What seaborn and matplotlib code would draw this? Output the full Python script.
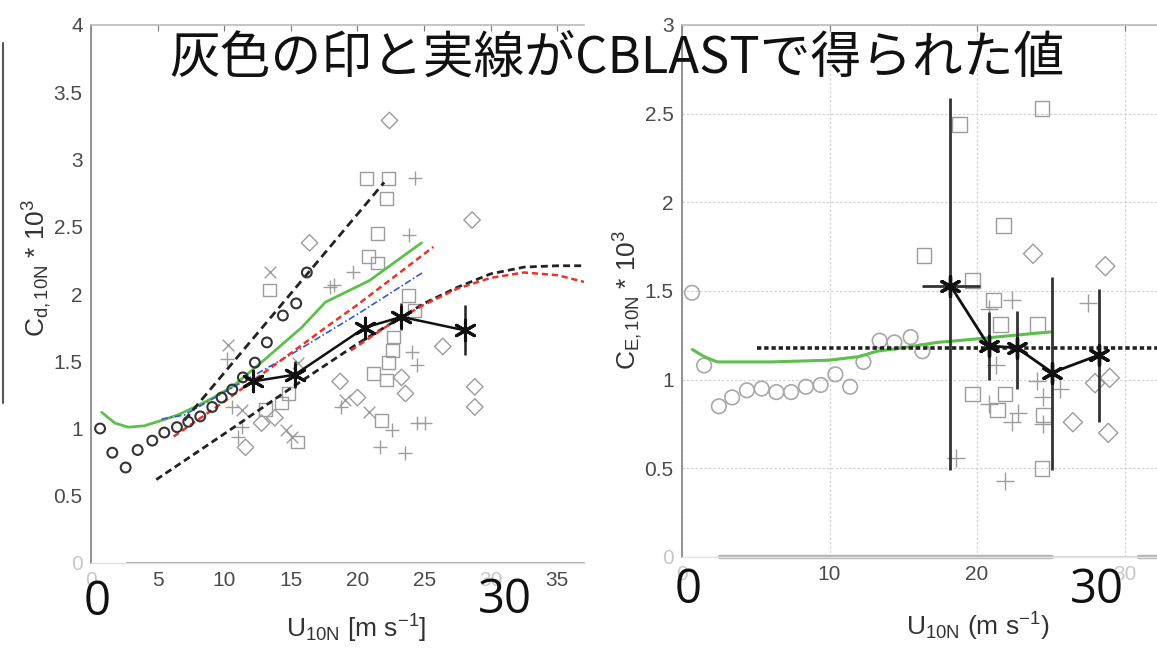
import numpy as np
import pandas as pd
import matplotlib
matplotlib.use("Agg")
import matplotlib.pyplot as plt
import seaborn as sns
from matplotlib.lines import Line2D

# ---------------- drag coefficient panel (C_d,10N) ----------------
cd_circle_u = [0.68, 1.6, 2.6, 3.5, 4.6, 5.5, 6.45, 7.3, 8.2, 9.1, 9.8, 10.6, 11.4, 12.3, 13.2, 14.4, 15.4, 16.2]
cd_circle_c = [1.00, 0.82, 0.71, 0.84, 0.91, 0.97, 1.01, 1.05, 1.09, 1.16, 1.23, 1.29, 1.38, 1.49, 1.64, 1.84, 1.93, 2.16]

cd_green_u = [0.8, 1.8, 2.8, 4.0, 5.3, 6.5, 7.8, 9.2, 10.6, 13.0, 15.8, 17.6, 20.9, 24.8]
cd_green_c = [1.12, 1.04, 1.01, 1.02, 1.06, 1.10, 1.16, 1.23, 1.31, 1.51, 1.75, 1.94, 2.10, 2.38]

cd_red_u = [6.2, 10.0, 15.0, 17.6, 20.0, 25.7]
cd_red_c = [0.94, 1.20, 1.56, 1.75, 1.92, 2.35]

cd_blue_u = [5.3, 7.0, 10.0, 15.0, 20.0, 24.9]
cd_blue_c = [1.07, 1.10, 1.27, 1.55, 1.85, 2.16]

cd_steep_u = [7.0, 22.0]
cd_steep_c = [1.06, 2.83]

cd_curve_u = [4.9, 10.0, 15.0, 20.0, 22.5, 25.0, 27.5, 30.0, 32.5, 35.0, 37.0]
cd_curve_c = [0.62, 0.96, 1.30, 1.63, 1.78, 1.93, 2.05, 2.15, 2.20, 2.21, 2.21]

cd_redcurve_u = [19.5, 22.5, 25.0, 27.5, 30.0, 32.5, 35.0, 37.0]
cd_redcurve_c = [1.58, 1.78, 1.92, 2.04, 2.12, 2.16, 2.14, 2.09]

cd_bin_u = [12.15, 15.3, 20.55, 23.3, 28.05]
cd_bin_c = [1.35, 1.40, 1.75, 1.83, 1.73]
cd_bin_lo = [1.30, 1.30, 1.68, 1.73, 1.55]
cd_bin_hi = [1.40, 1.50, 1.82, 1.93, 1.92]

cd_sq_u = [20.7, 22.3, 22.2, 13.4, 20.8, 21.5, 21.2, 22.3, 22.6, 22.2, 21.8, 22.7, 23.8, 24.3, 13.1, 14.3, 14.8, 21.5, 15.5]
cd_sq_c = [2.86, 2.86, 2.71, 2.03, 2.28, 2.23, 1.41, 1.49, 1.58, 1.36, 1.06, 1.68, 1.99, 1.88, 1.14, 1.19, 1.26, 2.45, 0.90]

cd_plus_u = [24.3, 23.9, 17.9, 19.7, 18.2, 18.8, 22.6, 23.6, 24.5, 25.1, 24.5, 10.6, 11.3, 10.2, 24.1, 21.7, 11.0]
cd_plus_c = [2.86, 2.44, 2.05, 2.16, 2.07, 1.16, 0.99, 0.82, 1.04, 1.04, 1.47, 1.16, 1.01, 1.52, 1.57, 0.86, 0.94]

cd_x_u = [13.4, 10.3, 11.3, 14.6, 19.1, 20.9, 15.5, 15.1]
cd_x_c = [2.16, 1.62, 1.14, 0.99, 1.21, 1.12, 1.49, 0.94]

cd_dia_u = [22.4, 16.4, 28.6, 18.7, 20.0, 28.8, 28.8, 26.4, 23.6, 23.3, 11.6, 12.8, 13.8]
cd_dia_c = [3.29, 2.38, 2.55, 1.35, 1.23, 1.31, 1.16, 1.61, 1.26, 1.38, 0.86, 1.04, 1.08]

# ---------------- moisture coefficient panel (C_E,10N) ----------------
ce_circle_u = [0.68, 1.5, 2.5, 3.4, 4.4, 5.4, 6.4, 7.4, 8.4, 9.4, 10.4, 11.4, 12.3, 13.4, 14.4, 15.5, 16.3]
ce_circle_c = [1.49, 1.08, 0.85, 0.90, 0.94, 0.95, 0.93, 0.93, 0.96, 0.97, 1.03, 0.96, 1.10, 1.22, 1.21, 1.24, 1.16]

ce_green_u = [0.7, 1.5, 2.4, 4.0, 6.0, 8.0, 10.0, 12.0, 13.2, 15.0, 17.3, 20.0, 22.5, 25.1]
ce_green_c = [1.17, 1.13, 1.10, 1.10, 1.10, 1.105, 1.11, 1.13, 1.16, 1.18, 1.21, 1.23, 1.25, 1.27]

ce_const_u = [5.1, 35.0]
ce_const_c = [1.18, 1.18]

ce_bin_u = [18.2, 20.8, 22.7, 25.1, 28.3]
ce_bin_c = [1.53, 1.19, 1.18, 1.04, 1.14]
ce_bin_lo = [0.49, 1.00, 0.95, 0.49, 0.76]
ce_bin_hi = [2.59, 1.38, 1.39, 1.58, 1.51]
ce_bin_ulo = [16.3, 20.8, 22.7, 25.1, 28.3]
ce_bin_uhi = [20.2, 20.8, 22.7, 25.1, 28.3]

ce_sq_u = [18.8, 24.4, 21.8, 16.4, 19.7, 21.1, 21.6, 24.1, 19.7, 21.9, 21.4, 24.4, 24.5]
ce_sq_c = [2.44, 2.53, 1.87, 1.70, 1.56, 1.45, 1.31, 1.31, 0.92, 0.92, 0.83, 0.50, 0.80]

ce_plus_u = [27.5, 22.4, 20.8, 21.3, 24.1, 25.6, 20.8, 22.8, 22.4, 24.5, 24.5, 18.6, 21.9]
ce_plus_c = [1.43, 1.45, 1.40, 1.08, 0.99, 0.95, 0.86, 0.81, 0.76, 0.90, 0.75, 0.56, 0.43]

ce_dia_u = [23.8, 28.7, 26.5, 28.0, 29.0, 28.9]
ce_dia_c = [1.71, 1.64, 0.76, 0.98, 1.01, 0.70]

cd_yticks = [0, 0.5, 1, 1.5, 2, 2.5, 3, 3.5, 4]
cd_yticklabels = ["0", "0.5", "1", "1.5", "2", "2.5", "3", "3.5", "4"]
cd_xticks = [0, 5, 10, 15, 20, 25, 30, 35]
ce_yticks = [0, 0.5, 1, 1.5, 2, 2.5, 3]
ce_yticklabels = ["0", "0.5", "1", "1.5", "2", "2.5", "3"]
ce_xticks = [0, 10, 20, 30]

title_text = "灰色の印と実線がCBLASTで得られた値"

# ---------------- styling ----------------
sns.set_theme(style="white")
plt.rcParams["font.family"] = ["Liberation Sans Narrow", "Liberation Sans", "DejaVu Sans"]
plt.rcParams["mathtext.fontset"] = "custom"
plt.rcParams["mathtext.rm"] = "Liberation Sans"
plt.rcParams["mathtext.it"] = "Liberation Sans:italic"

GRAY = "#9c9c9c"
TICK = "#4a4a4a"
FADED = "#c8c8c8"

W, H = 1157, 658
fig = plt.figure(figsize=(W / 100, H / 100), dpi=100)
fig.patch.set_facecolor("white")


def px_axes(left, top, right, bottom):
    return fig.add_axes([left / W, 1 - bottom / H, (right - left) / W, (bottom - top) / H])


def scatter_open(ax, u, c, marker, size=80, color=GRAY, lw=1.0):
    sns.scatterplot(x=u, y=c, ax=ax, marker=marker, s=size,
                    facecolors="none", edgecolor=color, linewidth=lw, zorder=2)


def scatter_line(ax, u, c, marker, size=80, color=GRAY, lw=1.0):
    sns.scatterplot(x=u, y=c, ax=ax, marker=marker, s=size, color=color, linewidth=lw, zorder=2)


def line(ax, u, c, color, lw, ls="-", z=3):
    sns.lineplot(x=u, y=c, ax=ax, color=color, linewidth=lw, linestyle=ls,
                 sort=False, estimator=None, zorder=z)


def style_axes(ax, xlim, ylim, xticks, yticks, yticklabels, faded_x):
    ax.set_xlim(*xlim)
    ax.set_ylim(*ylim)
    ax.set_xticks(xticks)
    ax.set_xticklabels([str(t) for t in xticks])
    ax.set_yticks(yticks)
    ax.set_yticklabels(yticklabels)
    ax.tick_params(direction="in", length=4, width=0.8, colors="#777777",
                   labelcolor=TICK, labelsize=15, top=True, pad=6)
    # tick labels sitting under the large overlaid numbers are washed out
    for t, lbl in zip(xticks, ax.get_xticklabels()):
        if t in faded_x:
            lbl.set_color(FADED)
    ax.get_yticklabels()[0].set_color(FADED)
    ax.spines["right"].set_visible(False)
    ax.spines["top"].set_color("#bdbdbd")
    ax.spines["left"].set_color("#8a8a8a")
    ax.spines["left"].set_linewidth(1.3)
    ax.spines["bottom"].set_color("#e2e2e2")
    ax.spines["bottom"].set_linewidth(1.0)
    ax.set_xlabel("")
    ax.set_ylabel("")
    ax.set_facecolor("white")


# ---------------- left panel ----------------
ax1 = px_axes(91, 25, 584, 563)
style_axes(ax1, (0, 37), (0, 4), cd_xticks, cd_yticks, cd_yticklabels, faded_x=(0, 30))
ax1.axhline(0, xmin=2.7 / 37, xmax=1, color="#a0a0a0", lw=1.4, clip_on=False, zorder=1)

scatter_open(ax1, cd_sq_u, cd_sq_c, "s", size=85)
scatter_open(ax1, cd_dia_u, cd_dia_c, "D", size=70)
scatter_line(ax1, cd_plus_u, cd_plus_c, "+", size=110)
scatter_line(ax1, cd_x_u, cd_x_c, "x", size=70)

line(ax1, cd_green_u, cd_green_c, "#5dbf4c", 2.0)
line(ax1, cd_blue_u, cd_blue_c, "#3a56d6", 1.2, ls=(0, (4, 1.5, 1, 1.5)))
line(ax1, cd_red_u, cd_red_c, "#e8352b", 1.8, ls=(0, (2.5, 1.5)))
line(ax1, cd_steep_u, cd_steep_c, "#222222", 2.0, ls=(0, (3, 1.8)))
line(ax1, cd_curve_u, cd_curve_c, "#222222", 2.0, ls=(0, (2.5, 1.5)))
line(ax1, cd_redcurve_u, cd_redcurve_c, "#e8352b", 1.8, ls=(0, (2.5, 1.5)), z=4)

sns.scatterplot(x=cd_circle_u, y=cd_circle_c, ax=ax1, marker="o", s=50,
                facecolors="none", edgecolor="#333333", linewidth=1.5, zorder=4)

cd_err = [np.subtract(cd_bin_c, cd_bin_lo), np.subtract(cd_bin_hi, cd_bin_c)]
ax1.errorbar(cd_bin_u, cd_bin_c, yerr=cd_err, fmt="none", ecolor="#222222",
             elinewidth=1.8, capsize=0, zorder=5)
line(ax1, cd_bin_u, cd_bin_c, "#111111", 1.8, z=5)
sns.scatterplot(x=cd_bin_u, y=cd_bin_c, ax=ax1, marker=(6, 2, 0), s=220,
                color="#111111", linewidth=2.2, zorder=6)

# ---------------- right panel ----------------
ax2 = px_axes(682, 25, 682 + 35 * 14.75, 557)
style_axes(ax2, (0, 35), (0, 3), ce_xticks, ce_yticks, ce_yticklabels, faded_x=(0, 30))
ax2.grid(True, color="#d4d4d4", linestyle=(0, (2, 1.5)), linewidth=0.9)
ax2.set_axisbelow(True)
ax2.axhline(0, xmin=2.6 / 35, xmax=25.1 / 35, color="#b4b4b4", lw=3.2, clip_on=False, zorder=1)
ax2.axhline(0, xmin=25.1 / 35, xmax=31.0 / 35, color="#cfcfcf", lw=1.2, clip_on=False, zorder=1)
ax2.axhline(0, xmin=31.0 / 35, xmax=1, color="#b4b4b4", lw=3.2, clip_on=False, zorder=1)

sns.scatterplot(x=ce_circle_u, y=ce_circle_c, ax=ax2, marker="o", s=110,
                facecolors="none", edgecolor="#a8a8a8", linewidth=1.2, zorder=2)
scatter_open(ax2, ce_sq_u, ce_sq_c, "s", size=110)
scatter_open(ax2, ce_dia_u, ce_dia_c, "D", size=95)
scatter_line(ax2, ce_plus_u, ce_plus_c, "+", size=150)

line(ax2, ce_green_u, ce_green_c, "#5dbf4c", 2.2)
line(ax2, ce_const_u, ce_const_c, "#222222", 2.6, ls=(0, (1.2, 0.8)))

ce_yerr = [np.subtract(ce_bin_c, ce_bin_lo), np.subtract(ce_bin_hi, ce_bin_c)]
ce_xerr = [np.subtract(ce_bin_u, ce_bin_ulo), np.subtract(ce_bin_uhi, ce_bin_u)]
ax2.errorbar(ce_bin_u, ce_bin_c, yerr=ce_yerr, xerr=ce_xerr, fmt="none",
             ecolor="#333333", elinewidth=2.0, capsize=0, zorder=5)
line(ax2, ce_bin_u, ce_bin_c, "#111111", 2.0, z=5)
sns.scatterplot(x=ce_bin_u, y=ce_bin_c, ax=ax2, marker=(6, 2, 0), s=200,
                color="#111111", linewidth=2.4, zorder=6)

# ---------------- axis labels ----------------
lab = dict(fontsize=19, color="#333333", family=["Liberation Sans", "DejaVu Sans"])
fig.text(37 / W, 1 - 268 / H, r"$\mathrm{C_{d,10N}}$ * 10$^\mathrm{3}$", rotation=90,
         ha="center", va="center", **lab)
fig.text(628 / W, 1 - 300 / H, r"$\mathrm{C_{E,10N}}$ * 10$^\mathrm{3}$", rotation=90,
         ha="center", va="center", **lab)
fig.text(356 / W, 1 - 629 / H, r"$\mathrm{U_{10N}}$ [m s$^\mathrm{-1}$]",
         ha="center", va="center", **lab)
fig.text(978 / W, 1 - 627 / H, r"$\mathrm{U_{10N}}$ (m s$^\mathrm{-1}$)",
         ha="center", va="center", **lab)

# frame edge on the far left
fig.add_artist(Line2D([3 / W, 3 / W], [1 - 43 / H, 1 - 403 / H], color="#555555", lw=1.5))

# ---------------- overlaid annotation text ----------------
big = dict(fontsize=34, color="#111111", family=["Open Sans", "DejaVu Sans"],
           ha="center", va="center")
fig.text(97 / W, 1 - 602 / H, "0", **big)
fig.text(505 / W, 1 - 600 / H, "30", **big)
fig.text(688 / W, 1 - 590 / H, "0", **big)
fig.text(1097 / W, 1 - 590 / H, "30", **big)

fig.text(617 / W, 1 - 60 / H, title_text, fontsize=36.5, color="#111111",
         family=["Noto Sans CJK JP", "DejaVu Sans"], ha="center", va="center")

fig.savefig("out.png", dpi=100, facecolor="white")
